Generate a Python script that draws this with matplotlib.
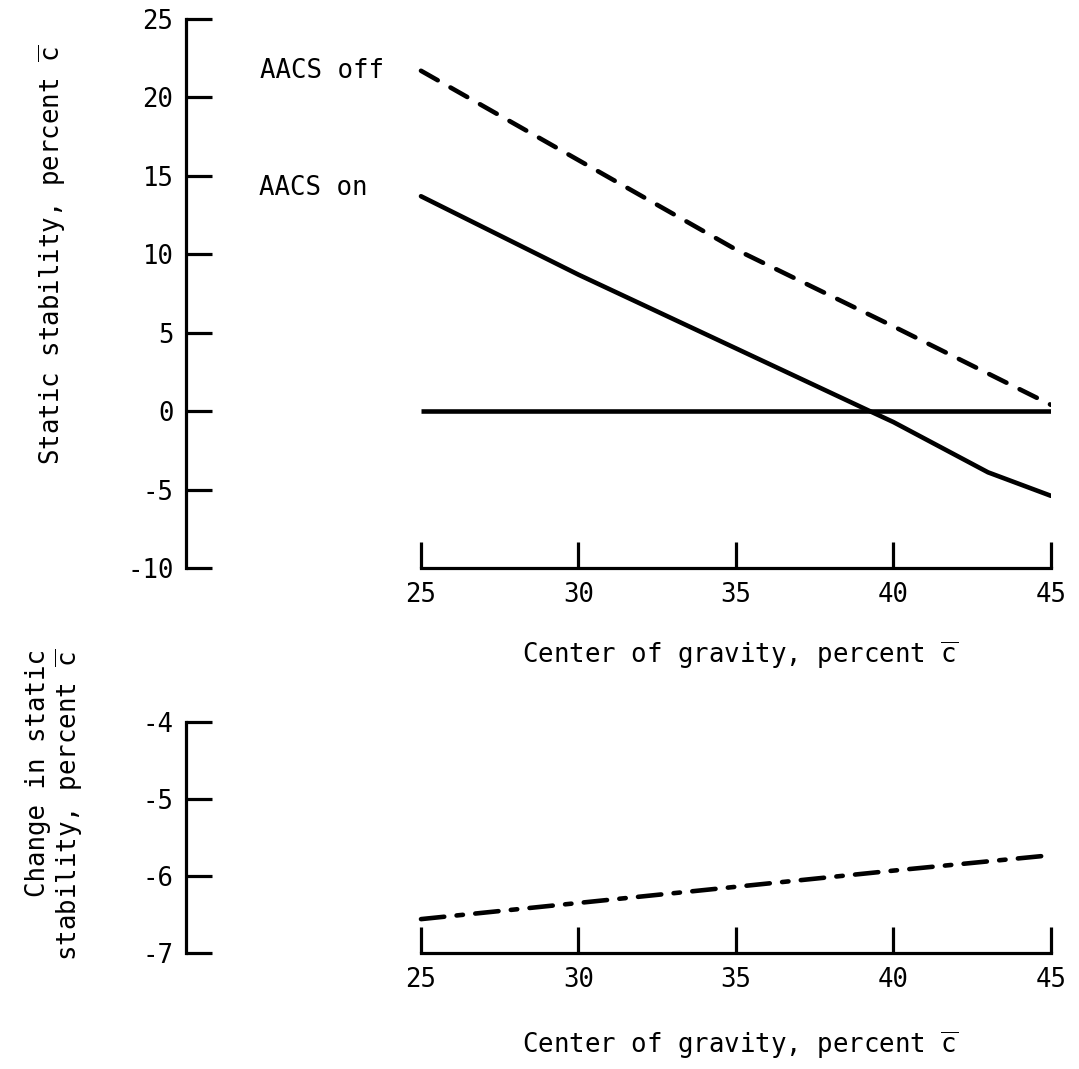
import matplotlib
matplotlib.use("Agg")
import matplotlib.pyplot as plt

# ---------- data ----------
cg = [25, 27, 30, 35, 39.25, 40, 43, 45]
aacs_on = [13.7, 11.7, 8.7, 4.0, 0.0, -0.7, -3.9, -5.4]

cg_off = [25, 30, 35, 40, 45]
aacs_off = [21.7, 16.0, 10.3, 5.4, 0.4]

cg_zero = [25, 45]
zero_line = [0, 0]

cg_delta = [25, 30, 35, 40, 45]
delta_stab = [-6.56, -6.35, -6.14, -5.93, -5.73]

x_ticks = [25, 30, 35, 40, 45]
y_ticks_top = [-10, -5, 0, 5, 10, 15, 20, 25]
y_ticks_bot = [-7, -6, -5, -4]

W, H, DPI = 1079, 1069, 100
FONT = "DejaVu Sans Mono"
FS = 18.5
LW = 3.3

plt.rcParams["font.family"] = [FONT]
plt.rcParams["mathtext.fontset"] = "dejavusans"

fig = plt.figure(figsize=(W / DPI, H / DPI), dpi=DPI)


def px_box(left, top, right, bottom):
    """Pixel box (image coords) -> figure fraction rect."""
    return (left / W, 1 - bottom / H, (right - left) / W, (bottom - top) / H)


def style_axes(ax, ylim, yticks):
    ax.set_xlim(17.54, 45)
    ax.set_ylim(*ylim)
    for s in ("top", "right"):
        ax.spines[s].set_visible(False)
    ax.spines["left"].set_linewidth(2.3)
    ax.spines["bottom"].set_linewidth(2.3)
    ax.spines["bottom"].set_bounds(25, 45)
    ax.set_xticks(x_ticks)
    ax.set_yticks(yticks)
    ax.set_yticklabels([str(v) for v in yticks])
    ax.tick_params(axis="both", direction="in", length=18.7, width=2.3,
                   labelsize=FS)
    ax.tick_params(axis="y", pad=9)
    ax.tick_params(axis="x", pad=10)
    ax.patch.set_visible(False)


# ---------- top panel ----------
ax1 = fig.add_axes(px_box(186, 19, 1051, 568))
style_axes(ax1, (-10, 25), y_ticks_top)
ax1.plot(cg_zero, zero_line, color="black", lw=LW, solid_capstyle="butt")
ax1.plot(cg, aacs_on, color="black", lw=LW, solid_capstyle="round")
ax1.plot(cg_off, aacs_off, color="black", lw=LW, dashes=(4.2, 3.2),
         dash_capstyle="round")
ax1.text(19.9, 21.7, "AACS off", fontsize=FS, ha="left", va="center")
ax1.text(19.85, 14.2, "AACS on", fontsize=FS, ha="left", va="center")

fig.text(740 / W, 1 - 655 / H, r"Center of gravity, percent $\overline{\mathtt{c}}$",
         fontsize=FS, ha="center", va="center")
fig.text(52 / W, 1 - 255 / H, r"Static stability, percent $\overline{\mathtt{c}}$",
         fontsize=FS, ha="center", va="center", rotation=90)

# ---------- bottom panel ----------
ax2 = fig.add_axes(px_box(186, 722, 1051, 953))
style_axes(ax2, (-7, -4), y_ticks_bot)
ax2.plot(cg_delta, delta_stab, color="black", lw=LW,
         dashes=(5.1, 2.7, 1.4, 2.7), dash_capstyle="round")

fig.text(740 / W, 1 - 1045 / H, r"Center of gravity, percent $\overline{\mathtt{c}}$",
         fontsize=FS, ha="center", va="center")
fig.text(55 / W, 1 - 805 / H,
         "Change in static\n" + r"stability, percent $\overline{\mathtt{c}}$",
         fontsize=FS, ha="center", va="center", rotation=90,
         multialignment="right", linespacing=1.1)

fig.savefig("out.png", dpi=DPI, facecolor="white")
